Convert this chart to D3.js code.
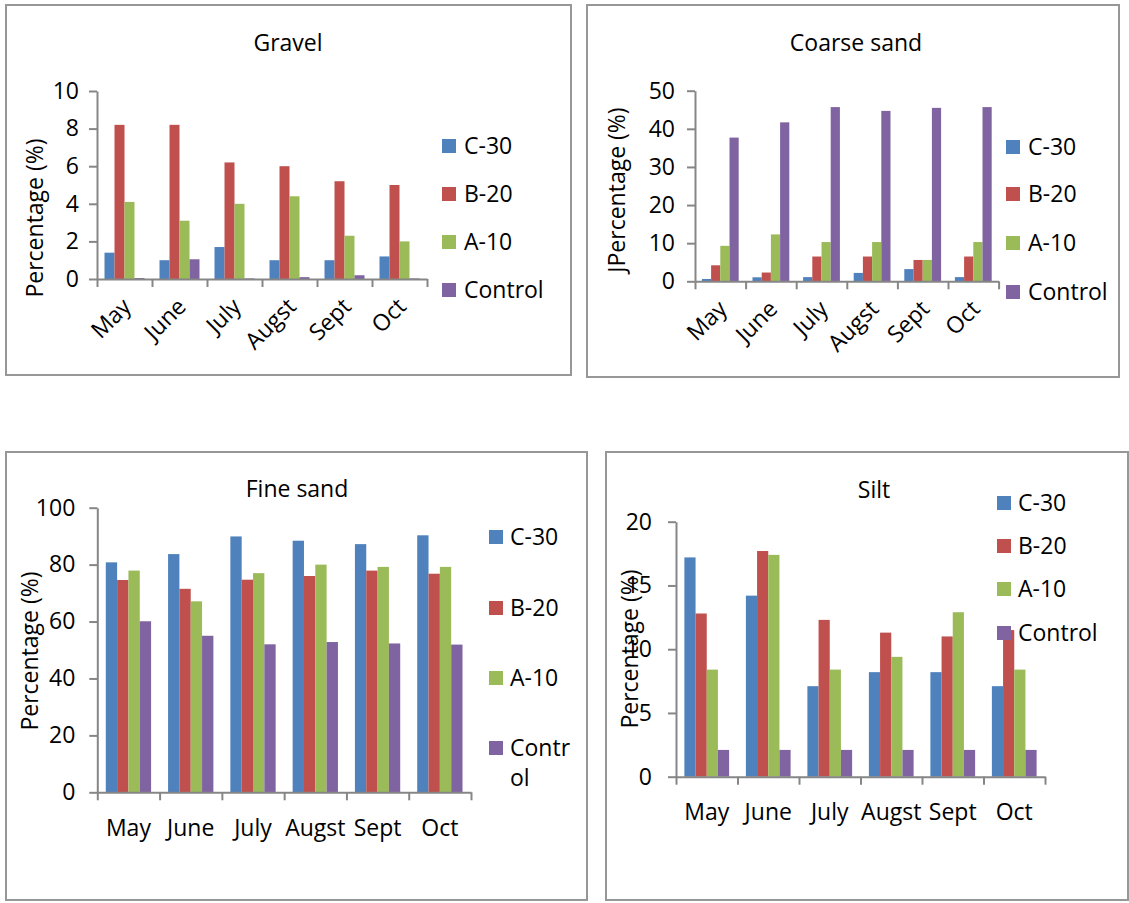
<!DOCTYPE html>
<html>
<head>
<meta charset="utf-8">
<script src="https://cdn.jsdelivr.net/npm/d3@7"></script>
<style>
  body { margin: 0; background: #fff; }
  text { font-family: "Open Sans", sans-serif; fill: #000; }
</style>
</head>
<body>
<div id="chart"></div>
<script>
var W = 1129, H = 903;

// data
var months = ["May", "June", "July", "Augst", "Sept", "Oct"];
var seriesNames = ["C-30", "B-20", "A-10", "Control"];
var colors = ["#4F81BD", "#C0504D", "#9BBB59", "#8064A2"];

// rows = series (C-30, B-20, A-10, Control), cols = months
var gravel = [
  [1.4, 1.0, 1.7, 1.0, 1.0, 1.2],
  [8.2, 8.2, 6.2, 6.0, 5.2, 5.0],
  [4.1, 3.1, 4.0, 4.4, 2.3, 2.0],
  [0.05, 1.05, 0.03, 0.1, 0.2, 0.03]
];
var coarseSand = [
  [0.6, 1.05, 1.1, 2.2, 3.2, 1.1],
  [4.2, 2.3, 6.5, 6.5, 5.6, 6.5],
  [9.3, 12.3, 10.3, 10.3, 5.6, 10.3],
  [37.7, 41.7, 45.7, 44.7, 45.5, 45.7]
];
var fineSand = [
  [80.8, 83.7, 89.9, 88.4, 87.2, 90.3],
  [74.6, 71.5, 74.7, 76.0, 77.9, 76.8],
  [77.9, 67.1, 77.0, 80.0, 79.2, 79.2],
  [60.1, 55.0, 52.0, 52.8, 52.3, 51.9]
];
var silt = [
  [17.2, 14.2, 7.1, 8.2, 8.2, 7.1],
  [12.8, 17.7, 12.3, 11.3, 11.0, 11.5],
  [8.4, 17.4, 8.4, 9.4, 12.9, 8.4],
  [2.1, 2.1, 2.1, 2.1, 2.1, 2.1]
];

var gravelTicks = [0, 2, 4, 6, 8, 10];
var coarseTicks = [0, 10, 20, 30, 40, 50];
var fineTicks = [0, 20, 40, 60, 80, 100];
var siltTicks = [0, 5, 10, 15, 20];

var svg = d3.select("#chart").append("svg")
  .attr("width", W)
  .attr("height", H);

var fs = 23;
var axisColor = "#868686";

function drawPanel(p) {
  var g = svg.append("g");

  // frame
  g.append("rect")
    .attr("x", p.box[0]).attr("y", p.box[1])
    .attr("width", p.box[2]).attr("height", p.box[3])
    .attr("fill", "none")
    .attr("stroke", "#979797")
    .attr("stroke-width", 2);

  var yScale = d3.scaleLinear()
    .domain([0, d3.max(p.ticks)])
    .range([p.y1, p.y0]);
  var xBand = d3.scaleBand()
    .domain(months)
    .range([p.x0, p.x1]);
  var bw = xBand.bandwidth();
  var inner = d3.scaleBand()
    .domain(seriesNames)
    .range([bw * 0.75 / 5.5, bw * 4.75 / 5.5]);
  var xIdx = d3.scaleLinear().domain([0, months.length]).range([p.x0, p.x1]);

  // bars
  seriesNames.forEach(function(s, si) {
    g.selectAll(".bar-" + si)
      .data(p.data[si])
      .enter()
      .append("rect")
      .attr("x", function(d, i) { return xBand(months[i]) + inner(s); })
      .attr("y", function(d) { return yScale(d); })
      .attr("width", inner.bandwidth())
      .attr("height", function(d) { return yScale(0) - yScale(d); })
      .attr("fill", colors[si]);
  });

  // y axis
  var yAxis = d3.axisLeft(yScale)
    .tickValues(p.ticks)
    .tickSize(8)
    .tickSizeOuter(0)
    .tickPadding(p.tickPad)
    .tickFormat(d3.format("d"));
  var ya = g.append("g")
    .attr("transform", "translate(" + p.x0 + ",0)")
    .call(yAxis);
  ya.selectAll("path, line").attr("stroke", axisColor).attr("stroke-width", 2);
  ya.selectAll("text").style("font-size", fs + "px").style("font-family", "Open Sans").attr("fill", "#000");

  // x axis with ticks at category boundaries
  var xAxis = d3.axisBottom(xIdx)
    .tickValues(d3.range(months.length + 1))
    .tickSize(8)
    .tickSizeOuter(0)
    .tickFormat("");
  var xa = g.append("g")
    .attr("transform", "translate(0," + p.y1 + ")")
    .call(xAxis);
  xa.selectAll("path, line").attr("stroke", axisColor).attr("stroke-width", 2);

  // category labels
  months.forEach(function(m) {
    var cx = xBand(m) + bw / 2;
    if (p.rotate) {
      g.append("text")
        .attr("transform", "translate(" + (cx + 8) + "," + (p.y1 + 29) + ") rotate(-45)")
        .attr("text-anchor", "end")
        .style("font-size", fs + "px")
        .text(m);
    } else {
      g.append("text")
        .attr("x", cx)
        .attr("y", p.y1 + p.labelDy)
        .attr("text-anchor", "middle")
        .style("font-size", fs + "px")
        .text(m);
    }
  });

  // title
  g.append("text")
    .attr("x", p.title[1]).attr("y", p.title[2] + 8)
    .attr("text-anchor", "middle")
    .style("font-size", "23px")
    .text(p.title[0]);

  // y axis title
  g.append("text")
    .attr("transform", "translate(" + (p.yLab[1] + 8) + "," + p.yLab[2] + ") rotate(-90)")
    .attr("text-anchor", "middle")
    .style("font-size", fs + "px")
    .text(p.yLab[0]);

  // legend
  seriesNames.forEach(function(s, si) {
    var ry = p.leg.rows[si];
    g.append("rect")
      .attr("x", p.leg.sx).attr("y", ry - 7)
      .attr("width", 14).attr("height", 14)
      .attr("fill", colors[si]);
    var t = g.append("text")
      .attr("x", p.leg.tx).attr("y", ry + 8)
      .style("font-size", fs + "px");
    if (p.leg.wrap && s === "Control") {
      t.append("tspan").attr("x", p.leg.tx).text("Contr");
      t.append("tspan").attr("x", p.leg.tx).attr("dy", 30).text("ol");
    } else {
      t.text(s);
    }
  });
}

drawPanel({
  box: [6, 5, 565, 370],
  x0: 97, x1: 427, y0: 91, y1: 279,
  ticks: gravelTicks, data: gravel, rotate: true, tickPad: 10,
  title: ["Gravel", 288, 43],
  yLab: ["Percentage (%)", 35, 218],
  leg: { sx: 442, tx: 464, rows: [146, 194, 242, 290] }
});

drawPanel({
  box: [587, 5, 532, 372],
  x0: 695, x1: 998.6, y0: 90.7, y1: 281.3,
  ticks: coarseTicks, data: coarseSand, rotate: true, tickPad: 12,
  title: ["Coarse sand", 856, 43],
  yLab: ["JPercentage (%)", 617, 190],
  leg: { sx: 1006, tx: 1028, rows: [147, 194, 243, 292] }
});

drawPanel({
  box: [6, 452, 581, 448],
  x0: 97.3, x1: 471, y0: 507.7, y1: 792.3,
  ticks: fineTicks, data: fineSand, rotate: false, labelDy: 44, tickPad: 14,
  title: ["Fine sand", 297, 489],
  yLab: ["Percentage (%)", 30, 651],
  leg: { sx: 489, tx: 510, rows: [537, 608, 678, 748], wrap: true }
});

drawPanel({
  box: [606, 452, 522, 448],
  x0: 676, x1: 1045, y0: 521.7, y1: 776.7,
  ticks: siltTicks, data: silt, rotate: false, labelDy: 43, tickPad: 16,
  title: ["Silt", 874, 490],
  yLab: ["Percentage (%)", 629.5, 649],
  leg: { sx: 997, tx: 1018, rows: [503, 546, 589, 633] }
});
</script>
</body>
</html>
